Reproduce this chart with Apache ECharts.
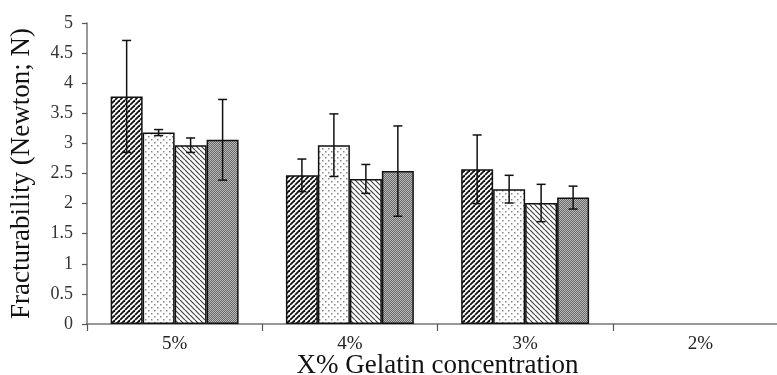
<!DOCTYPE html>
<html>
<head>
<meta charset="utf-8">
<script src="https://cdn.jsdelivr.net/npm/echarts@6/dist/echarts.min.js"></script>
<style>
html,body{margin:0;padding:0;background:#fff;}
#c{width:777px;height:375px;}
</style>
</head>
<body>
<div id="c"></div>
<script>
const categories = ['5%', '4%', '3%', '2%'];
const series1 = [3.78, 2.47, 2.57, null];
const series2 = [3.18, 2.97, 2.24, null];
const series3 = [2.97, 2.41, 2.01, null];
const series4 = [3.06, 2.54, 2.10, null];
const err1 = [0.93, 0.27, 0.57, null];
const err2 = [0.05, 0.52, 0.23, null];
const err3 = [0.12, 0.24, 0.31, null];
const err4 = [0.67, 0.75, 0.19, null];
const yTicks = [0, 0.5, 1, 1.5, 2, 2.5, 3, 3.5, 4, 4.5, 5];

const BAR_CAT_GAP = 0.27;

function canvasPattern(w, h, draw) {
  const c = document.createElement('canvas');
  c.width = w; c.height = h;
  const ctx = c.getContext('2d');
  ctx.fillStyle = '#fff';
  ctx.fillRect(0, 0, w, h);
  draw(ctx, w, h);
  return { image: c, repeat: 'repeat' };
}
// dense "/" hatch
const patHatchDark = canvasPattern(5, 5, (ctx, w, h) => {
  ctx.strokeStyle = '#111'; ctx.lineWidth = 1.8;
  for (let k = -1; k <= 1; k++) {
    ctx.beginPath(); ctx.moveTo(k * w, h); ctx.lineTo(k * w + w, 0); ctx.stroke();
  }
});
// sparse dots
const patDots = canvasPattern(6, 6, (ctx) => {
  ctx.fillStyle = '#888';
  ctx.fillRect(1, 1, 1.5, 1.5);
  ctx.fillRect(4, 4, 1.5, 1.5);
});
// "\" hatch lighter
const patHatchLight = canvasPattern(5, 5, (ctx, w, h) => {
  ctx.strokeStyle = '#444'; ctx.lineWidth = 1.2;
  for (let k = -1; k <= 1; k++) {
    ctx.beginPath(); ctx.moveTo(k * w, 0); ctx.lineTo(k * w + w, h); ctx.stroke();
  }
});
// grey checker
const patChecker = canvasPattern(2, 2, (ctx) => {
  ctx.fillStyle = '#6a6a6a'; ctx.fillRect(0, 0, 2, 2);
  ctx.fillStyle = '#b8b8b8'; ctx.fillRect(0, 0, 1, 1); ctx.fillRect(1, 1, 1, 1);
});

const barSets = [
  { data: series1, err: err1, color: patHatchDark },
  { data: series2, err: err2, color: patDots },
  { data: series3, err: err3, color: patHatchLight },
  { data: series4, err: err4, color: patChecker }
];

const FONT = 'Liberation Serif';

const seriesList = [];
barSets.forEach((b) => {
  seriesList.push({
    type: 'bar',
    data: b.data,
    barGap: '0%',
    barCategoryGap: (BAR_CAT_GAP * 100) + '%',
    itemStyle: { color: b.color, borderColor: '#111', borderWidth: 1.5 },
    silent: true,
    animation: false,
    z: 2
  });
});
barSets.forEach((b, si) => {
  const d = [];
  b.data.forEach((v, i) => {
    if (v != null && b.err[i] != null) d.push([i, v - b.err[i], v + b.err[i]]);
  });
  seriesList.push({
    type: 'custom',
    data: d,
    encode: { x: 0, y: [1, 2] },
    animation: false,
    silent: true,
    z: 5,
    renderItem: function (params, api) {
      const cat = api.value(0);
      const lo = api.coord([cat, api.value(1)]);
      const hi = api.coord([cat, api.value(2)]);
      const catW = api.size([1, 0])[0];
      const barW = catW * (1 - BAR_CAT_GAP) / 4;
      const x = lo[0] + (si - 1.5) * barW;
      const cap = 4.5;
      const st = { stroke: '#111', lineWidth: 1.5 };
      return {
        type: 'group',
        children: [
          { type: 'line', shape: { x1: x, y1: lo[1], x2: x, y2: hi[1] }, style: st },
          { type: 'line', shape: { x1: x - cap, y1: hi[1], x2: x + cap, y2: hi[1] }, style: st },
          { type: 'line', shape: { x1: x - cap, y1: lo[1], x2: x + cap, y2: lo[1] }, style: st }
        ]
      };
    }
  });
});

const chart = echarts.init(document.getElementById('c'), null, { renderer: 'canvas' });
chart.setOption({
  animation: false,
  backgroundColor: '#fff',
  grid: { left: 87, top: 23, right: -11, bottom: 51, containLabel: false, outerBoundsMode: 'none' },
  xAxis: {
    type: 'category',
    data: categories,
    name: 'X% Gelatin concentration',
    nameLocation: 'middle',
    nameGap: 28,
    nameMoveOverlap: false,
    nameTextStyle: { fontFamily: FONT, fontSize: 27, color: '#111', verticalAlign: 'top' },
    axisLine: { lineStyle: { color: '#777', width: 1.5 } },
    axisTick: { show: true, length: 7, lineStyle: { color: '#555', width: 1.2 } },
    axisLabel: { fontFamily: FONT, fontSize: 19, color: '#222', margin: 11 },
    splitLine: { show: false }
  },
  yAxis: {
    type: 'value',
    min: yTicks[0],
    max: yTicks[yTicks.length - 1],
    interval: 0.5,
    name: 'Fracturability (Newton; N)',
    nameLocation: 'middle',
    nameGap: 52,
    nameRotate: 90,
    nameMoveOverlap: false,
    nameTextStyle: { fontFamily: FONT, fontSize: 27, color: '#111' },
    axisLine: { show: true, lineStyle: { color: '#777', width: 1.5 } },
    axisTick: { show: true, length: 5, lineStyle: { color: '#555', width: 1.2 } },
    axisLabel: { fontFamily: FONT, fontSize: 18, color: '#333', margin: 14,
      formatter: function (v) { return String(v); } },
    splitLine: { show: false }
  },
  series: seriesList
});
</script>
</body>
</html>
